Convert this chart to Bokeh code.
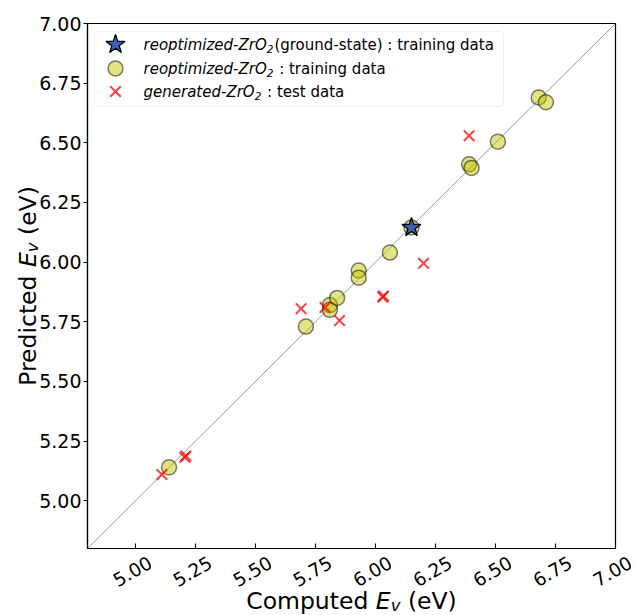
import math
from bokeh.plotting import figure
from bokeh.models import Range1d, Label, BoxAnnotation, FixedTicker
from bokeh.core.properties import value
from bokeh.embed import file_html
from bokeh.resources import INLINE

# ---------------- data ----------------
train_x = [5.14, 5.71, 5.81, 5.81, 5.84, 5.93, 5.93, 6.06, 6.15, 6.39, 6.40, 6.51, 6.68, 6.71]
train_y = [5.14, 5.73, 5.82, 5.80, 5.85, 5.965, 5.935, 6.04, 6.145, 6.41, 6.395, 6.505, 6.69, 6.67]

gs_x = [6.15]
gs_y = [6.145]

test_x = [5.11, 5.205, 5.21, 5.69, 5.79, 5.85, 6.03, 6.033, 6.20, 6.39]
test_y = [5.11, 5.182, 5.188, 5.805, 5.81, 5.755, 5.853, 5.858, 5.995, 6.53]

ticks = [5.00, 5.25, 5.50, 5.75, 6.00, 6.25, 6.50, 6.75, 7.00]
tick_labels = ["5.00", "5.25", "5.50", "5.75", "6.00", "6.25", "6.50", "6.75", "7.00"]
lims = [4.8, 7.0]

# ---------------- layout constants ----------------
W, H = 635, 615
L, R, T, B = 87, 615, 23, 548
FONT = "DejaVu Sans"

p = figure(width=W, height=H, output_backend="svg", toolbar_location=None,
           x_range=Range1d(lims[0], lims[1]), y_range=Range1d(lims[0], lims[1]),
           min_border_left=L, min_border_right=W - R, min_border_top=T, min_border_bottom=H - B)
p.grid.visible = False
p.outline_line_color = "black"
p.outline_line_width = 1.2
p.background_fill_color = "white"
p.border_fill_color = "white"

for ax in (p.xaxis[0], p.yaxis[0]):
    ax.ticker = FixedTicker(ticks=ticks)
    ax.minor_tick_line_color = None
    ax.axis_line_color = "black"
    ax.axis_line_width = 1.2
    ax.major_tick_line_color = "black"
    ax.major_label_text_font = FONT
    ax.major_label_text_font_size = "19px"
    ax.major_label_text_color = "black"
    ax.major_label_overrides = {t: s for t, s in zip(ticks, tick_labels)}

p.xaxis.major_tick_in = 5
p.xaxis.major_tick_out = 0
p.xaxis.major_label_text_color = None
p.yaxis.major_tick_in = 0
p.yaxis.major_tick_out = 4
p.yaxis.major_label_standoff = 2


def dx(px):
    return lims[0] + (px - L) * (lims[1] - lims[0]) / (R - L)


def dy(py):
    return lims[0] + (B - py) * (lims[1] - lims[0]) / (B - T)


# diagonal
p.line(lims, lims, line_color="#999999", line_width=1)

# data
p.scatter(train_x, train_y, marker="circle", size=15, fill_color="#c4c400", fill_alpha=0.48,
          line_color="black", line_alpha=0.5, line_width=1.5)
p.scatter(test_x, test_y, marker="x", size=15, line_color="#ff0000", line_alpha=0.75, line_width=2)
p.scatter(gs_x, gs_y, marker="star", size=20, fill_color="#3b62b5", line_color="black", line_width=1.3)

# x tick labels, centred on the ticks and rotated like the reference
p.text(x=ticks, y=[dy(571)] * len(ticks), text=tick_labels, angle=math.pi / 6,
       text_font=value(FONT), text_font_size=value("18.5px"), text_color="black",
       text_align="center", text_baseline="middle", x_offset=-3, level="overlay")

# ---------------- legend (custom, to allow italic + subscript) ----------------
p.add_layout(BoxAnnotation(left=dx(94), right=dx(503), top=dy(31), bottom=dy(106),
                           fill_color="white", fill_alpha=0.85, line_color="#cccccc",
                           line_width=1, border_radius=4, level="underlay"))
rows = [44, 68, 91]
p.scatter([dx(115)], [dy(rows[0])], marker="star", size=20, fill_color="#3b62b5",
          line_color="black", line_width=1.3)
p.scatter([dx(115)], [dy(rows[1])], marker="circle", size=15, fill_color="#c4c400", fill_alpha=0.48,
          line_color="black", line_alpha=0.5, line_width=1.5)
p.scatter([dx(115)], [dy(rows[2])], marker="x", size=15, line_color="#ff0000", line_alpha=0.75,
          line_width=2)

LS = 15.0
SS = 10.5


def lab(px, py, s, size, style="normal", align="left", baseline="middle"):
    p.add_layout(Label(x=dx(px), y=dy(py), text=s, text_font=FONT, text_font_size=f"{size}px",
                       text_font_style=style, text_align=align, text_baseline=baseline,
                       text_color="black"))


def gtxt(px, py, s, size, style="normal", baseline="alphabetic", angle=0.0):
    p.text(x=[dx(px)], y=[dy(py)], text=[s], text_font=value(FONT), text_font_size=value(f"{size}px"),
           text_font_style=style, text_align="left", text_baseline=baseline, angle=angle,
           text_color="black", level="overlay")


x0 = 143
w1 = 8.214 * LS
w3 = 7.409 * LS
ws = 0.636 * SS + 1
# row 1
lab(x0, rows[0], "reoptimized-ZrO", LS, "italic")
lab(x0 + w1, rows[0] + 4, "2", SS, "italic")
lab(x0 + w1 + ws, rows[0], "(ground-state) : training data", LS)
# row 2
lab(x0, rows[1], "reoptimized-ZrO", LS, "italic")
lab(x0 + w1, rows[1] + 4, "2", SS, "italic")
lab(x0 + w1 + ws + 0.318 * LS, rows[1], ": training data", LS)
# row 3
lab(x0, rows[2], "generated-ZrO", LS, "italic")
lab(x0 + w3, rows[2] + 4, "2", SS, "italic")
lab(x0 + w3 + ws + 0.318 * LS, rows[2], ": test data", LS)

# ---------------- axis titles ----------------
AS = 23.5
SV = 16.5
wA = 5.513 * AS
wP = 5.052 * AS
wE = 0.632 * AS
wv = 0.592 * SV
wsp = 0.318 * AS
tot_x = wA + wE + wv + wsp + 2.079 * AS
cx = (L + R) / 2
sx = cx - tot_x / 2
by = 600
gtxt(sx, by, "Computed", AS)
gtxt(sx + wA, by, "E", AS, "italic")
gtxt(sx + wA + wE, by + 5, "v", SV, "italic")
gtxt(sx + wA + wE + wv + wsp, by, "(eV)", AS)

tot_y = wP + wE + wv + wsp + 2.079 * AS
cy = (T + B) / 2
sy = cy + tot_y / 2
bx = 27
ang = math.pi / 2
gtxt(bx, sy, "Predicted", AS, angle=ang)
gtxt(bx, sy - wP, "E", AS, "italic", angle=ang)
gtxt(bx + 5, sy - wP - wE, "v", SV, "italic", angle=ang)
gtxt(bx, sy - wP - wE - wv - wsp, "(eV)", AS, angle=ang)

open("out.html", "w").write(file_html(p, INLINE))
